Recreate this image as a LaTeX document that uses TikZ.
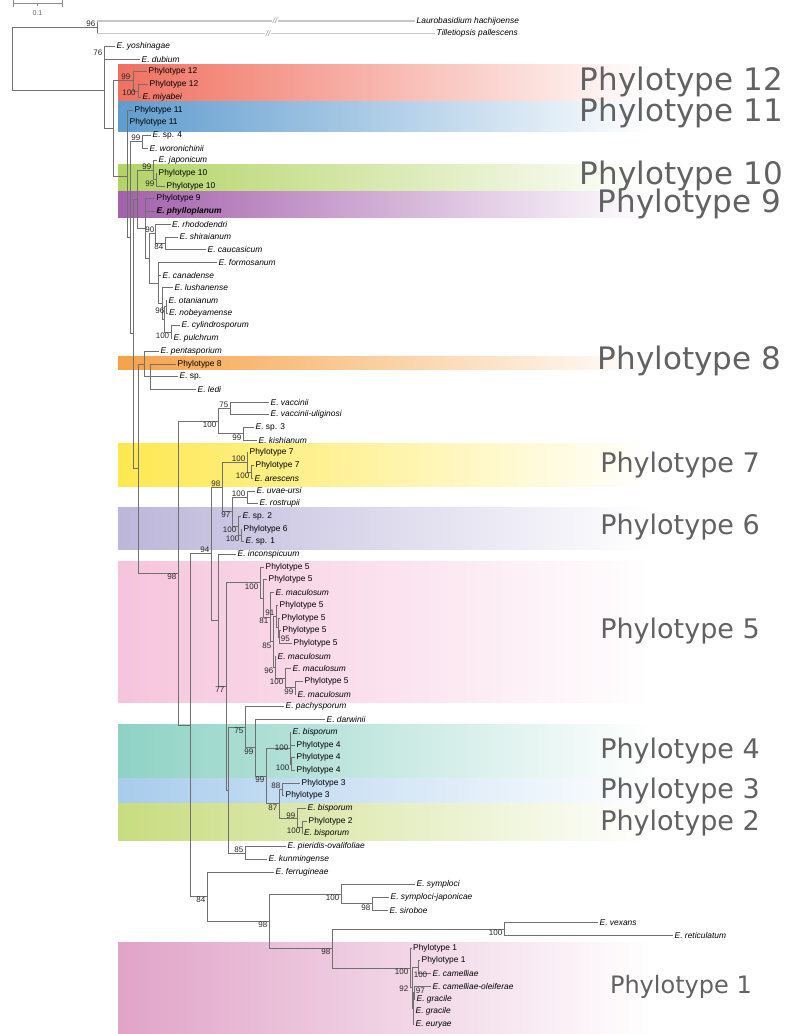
\documentclass[tikz,border=0pt]{standalone}
\usepackage{fontspec}
\setmainfont{Liberation Sans}
\newfontfamily\bigfont{DejaVu Sans}
\definecolor{band12}{RGB}{240,112,96}
\definecolor{band11}{RGB}{96,156,206}
\definecolor{band10}{RGB}{178,212,100}
\definecolor{band9}{RGB}{164,96,172}
\definecolor{band8}{RGB}{246,162,72}
\definecolor{band7}{RGB}{254,232,80}
\definecolor{band6}{RGB}{188,182,218}
\definecolor{band5}{RGB}{246,196,220}
\definecolor{band4}{RGB}{142,210,196}
\definecolor{band3}{RGB}{168,204,236}
\definecolor{band2}{RGB}{200,220,128}
\definecolor{band1}{RGB}{224,164,200}
\definecolor{branchcolor}{RGB}{112,112,112}
\definecolor{cladecolor}{RGB}{98,98,98}
\begin{document}
\begin{tikzpicture}[
    x=1pt, y=-1pt,
    % Estilos da arvore
    branch/.style={draw=branchcolor, line width=0.7pt},
    longbranch/.style={draw=black!22, line width=1.2pt},
    leaf/.style={anchor=west, inner sep=1.5pt, font=\fontsize{8.4}{10}\selectfont\itshape},
    otuleaf/.style={leaf, font=\fontsize{8.4}{10}\selectfont},
    boot/.style={inner sep=0.6pt, text=black!85, font=\fontsize{8}{9}\selectfont},
    band/.style={right color=white},
    % Rotulos dos filotipos
    cladebig/.style={anchor=east, inner sep=0pt, text=cladecolor, font=\bigfont\fontsize{31}{36}\selectfont},
    clademid/.style={cladebig, font=\bigfont\fontsize{27}{32}\selectfont},
    cladesmall/.style={cladebig, font=\bigfont\fontsize{24}{28}\selectfont},
    breakmark/.style={fill=white, inner sep=0.3pt, text=black!45, font=\fontsize{8}{9}\selectfont\itshape},
    scalebar/.style={draw=black!45, line width=0.6pt},
    scaletext/.style={text=black!60, font=\fontsize{7}{8}\selectfont},
]
\useasboundingbox (0,0) rectangle (790,1034);

% ============================================================================
% Faixas coloridas dos filotipos
% ============================================================================
\fill[band, left color=band12] (118,64) rectangle (650,101.5);
\fill[band, left color=band11] (118,101.5) rectangle (650,131);
\fill[band, left color=band10] (118,164) rectangle (650,191.5);
\fill[band, left color=band9] (118,191.5) rectangle (650,217.5);
\fill[band, left color=band8] (118,356) rectangle (650,369);
\fill[band, left color=band7] (118,443) rectangle (650,486);
\fill[band, left color=band6] (118,507) rectangle (650,549);
\fill[band, left color=band5] (118,561) rectangle (650,702);
\fill[band, left color=band4] (118,724) rectangle (650,778);
\fill[band, left color=band3] (118,778) rectangle (650,803);
\fill[band, left color=band2] (118,803) rectangle (650,840);
\fill[band, left color=band1] (118,942) rectangle (650,1034);

\node[cladebig] (lab12) at (783,82) {Phylotype 12};
\node[cladebig] (lab11) at (783,113) {Phylotype 11};
\node[cladebig] (lab10) at (783,176) {Phylotype 10};
\node[cladebig] (lab9) at (781,204) {Phylotype 9};
\node[cladebig] (lab8) at (781,361) {Phylotype 8};
\node[clademid] (lab7) at (760,465) {Phylotype 7};
\node[clademid] (lab6) at (760,527) {Phylotype 6};
\node[clademid] (lab5) at (760,631) {Phylotype 5};
\node[clademid] (lab4) at (760,751) {Phylotype 4};
\node[clademid] (lab3) at (760,791) {Phylotype 3};
\node[clademid] (lab2) at (760,823) {Phylotype 2};
\node[cladesmall] (lab1) at (752,987) {Phylotype 1};

% ============================================================================
% Escala
% ============================================================================
\coordinate (sbl) at (13,3.3);
\coordinate (sbr) at (62,3.3);
\coordinate (sbm) at (37.5,3.3);
\draw[scalebar] (sbl) -- (sbr);
\draw[scalebar] (sbl) ++(0,-3) -- ++(0,6.5);
\draw[scalebar] (sbr) ++(0,-3) -- ++(0,6.5);
\draw[scalebar] (sbm) -- ++(0,3);
\node[scaletext] (sbtext) at (37.5,13) {0.1};

% ============================================================================
% Folhas
% ============================================================================
\node[leaf] (l01) at (415,21.0) {Laurobasidium hachijoense};
\node[leaf] (l02) at (435,33.7) {Tilletiopsis pallescens};
\node[leaf] (l03) at (115,46.4) {E. yoshinagae};
\node[leaf] (l04) at (140,59.1) {E. dubium};
\node[otuleaf] (l05) at (147,71.8) {Phylotype 12};
\node[otuleaf] (l06) at (148,84.5) {Phylotype 12};
\node[leaf] (l07) at (141,97.2) {E. miyabei};
\node[otuleaf] (l08) at (133,109.9) {Phylotype 11};
\node[otuleaf] (l09) at (128,122.6) {Phylotype 11};
\node[otuleaf] (l10) at (151,135.3) {\textit{E.} sp. 4};
\node[leaf] (l11) at (148,148.0) {E. woronichinii};
\node[leaf] (l12) at (157,160.7) {E. japonicum};
\node[otuleaf] (l13) at (157,173.4) {Phylotype 10};
\node[otuleaf] (l14) at (165,186.1) {Phylotype 10};
\node[otuleaf] (l15) at (155,198.8) {Phylotype 9};
\node[leaf, font=\fontsize{8.4}{10}\selectfont\bfseries\itshape] (l16) at (155,211.5) {E. phylloplanum};
\node[leaf] (l17) at (170.5,224.2) {E. rhododendri};
\node[leaf] (l18) at (178,236.9) {E. shiraianum};
\node[leaf] (l19) at (206,249.6) {E. caucasicum};
\node[leaf] (l20) at (217,262.3) {E. formosanum};
\node[leaf] (l21) at (161,275.0) {E. canadense};
\node[leaf] (l22) at (173,287.7) {E. lushanense};
\node[leaf] (l23) at (167,300.4) {E. otanianum};
\node[leaf] (l24) at (167.5,313.1) {E. nobeyamense};
\node[leaf] (l25) at (180,325.8) {E. cylindrosporum};
\node[leaf] (l26) at (172,338.5) {E. pulchrum};
\node[leaf] (l27) at (159,351.2) {E. pentasporium};
\node[otuleaf] (l28) at (176,363.9) {Phylotype 8};
\node[otuleaf] (l29) at (178,376.6) {\textit{E.} sp.};
\node[leaf] (l30) at (196,389.3) {E. ledi};
\node[leaf] (l31) at (269,402.0) {E. vaccinii};
\node[leaf] (l32) at (269,414.7) {E. vaccinii-uliginosi};
\node[otuleaf] (l33) at (254,427.4) {\textit{E.} sp. 3};
\node[leaf] (l34) at (257,440.1) {E. kishianum};
\node[otuleaf] (l35) at (248,452.8) {Phylotype 7};
\node[otuleaf] (l36) at (254,465.5) {Phylotype 7};
\node[leaf] (l37) at (253,478.2) {E. arescens};
\node[leaf] (l38) at (255,490.9) {E. uvae-ursi};
\node[leaf] (l39) at (258,503.6) {E. rostrupii};
\node[otuleaf] (l40) at (241,516.3) {\textit{E.} sp. 2};
\node[otuleaf] (l41) at (242,529.0) {Phylotype 6};
\node[otuleaf] (l42) at (244,541.7) {\textit{E.} sp. 1};
\node[leaf] (l43) at (236,554.4) {E. inconspicuum};
\node[otuleaf] (l44) at (264,567.1) {Phylotype 5};
\node[otuleaf] (l45) at (267,579.8) {Phylotype 5};
\node[leaf] (l46) at (274,592.5) {E. maculosum};
\node[otuleaf] (l47) at (278,605.2) {Phylotype 5};
\node[otuleaf] (l48) at (280,617.9) {Phylotype 5};
\node[otuleaf] (l49) at (281,630.6) {Phylotype 5};
\node[otuleaf] (l50) at (292,643.3) {Phylotype 5};
\node[leaf] (l51) at (276,656.0) {E. maculosum};
\node[leaf] (l52) at (291,668.7) {E. maculosum};
\node[otuleaf] (l53) at (303,681.4) {Phylotype 5};
\node[leaf] (l54) at (296,694.1) {E. maculosum};
\node[leaf] (l55) at (284,706.8) {E. pachysporum};
\node[leaf] (l56) at (325,719.5) {E. darwinii};
\node[leaf] (l57) at (291,732.2) {E. bisporum};
\node[otuleaf] (l58) at (295,744.9) {Phylotype 4};
\node[otuleaf] (l59) at (295,757.6) {Phylotype 4};
\node[otuleaf] (l60) at (295,770.3) {Phylotype 4};
\node[otuleaf] (l61) at (300,783.0) {Phylotype 3};
\node[otuleaf] (l62) at (284,795.7) {Phylotype 3};
\node[leaf] (l63) at (306,808.4) {E. bisporum};
\node[otuleaf] (l64) at (307,821.1) {Phylotype 2};
\node[leaf] (l65) at (302.5,833.8) {E. bisporum};
\node[leaf] (l66) at (286,846.5) {E. pieridis-ovalifoliae};
\node[leaf] (l67) at (267,859.2) {E. kunmingense};
\node[leaf] (l68) at (274,871.9) {E. ferrugineae};
\node[leaf] (l69) at (415,884.6) {E. symploci};
\node[leaf] (l70) at (389,897.3) {E. symploci-japonicae};
\node[leaf] (l71) at (388,910.0) {E. siroboe};
\node[leaf] (l72) at (598,922.7) {E. vexans};
\node[leaf] (l73) at (673,935.4) {E. reticulatum};
\node[otuleaf] (l74) at (411.5,948.1) {Phylotype 1};
\node[otuleaf] (l75) at (420,960.8) {Phylotype 1};
\node[leaf] (l76) at (431,973.5) {E. camelliae};
\node[leaf] (l77) at (431,986.2) {E. camelliae-oleiferae};
\node[leaf] (l78) at (415,998.9) {E. gracile};
\node[leaf] (l79) at (414,1011.6) {E. gracile};
\node[leaf] (l80) at (414,1024.3) {E. euryae};

% ============================================================================
% Nos internos
% ============================================================================
\coordinate (root) at (12,58.9);
\coordinate (outg) at (97,27.35);
\coordinate (nA) at (104,90.4);
\coordinate (nY) at (104,52.75);
\coordinate (nB) at (113,128.3);
\coordinate (p12) at (133,80);
\coordinate (p12b) at (138,90.85);
\coordinate (nC) at (127,176.6);
\coordinate (p11) at (127,116.25);
\coordinate (nX) at (130,237.6);
\coordinate (sp4) at (142,141.65);
\coordinate (n133) at (133,333.6);
\coordinate (n137) at (137,199.6);
\coordinate (jap) at (153,170.6);
\coordinate (p10) at (156,179.75);
\coordinate (n145) at (145,228.55);
\coordinate (n149) at (149,258.3);
\coordinate (rho) at (155,233.7);
\coordinate (cau) at (165,243.25);
\coordinate (form) at (158,283);
\coordinate (lush) at (162,303.6);
\coordinate (nobc) at (164,319.5);
\coordinate (nob) at (166,306.75);
\coordinate (pul) at (171,332.15);
\coordinate (n138) at (138,468.5);
\coordinate (pent) at (144,363.9);
\coordinate (ledi) at (150,376.6);
\coordinate (n98a) at (178,573);
\coordinate (vac) at (218,421);
\coordinate (vacu) at (230,408.35);
\coordinate (kis) at (243,433.75);
\coordinate (n190) at (190,725);
\coordinate (n94) at (211,553.6);
\coordinate (n98p) at (222,486.9);
\coordinate (p7) at (247,462.3);
\coordinate (p7b) at (251,471.85);
\coordinate (n97s) at (232,511.5);
\coordinate (uva) at (247,497.25);
\coordinate (p6a) at (238,525.85);
\coordinate (p6b) at (241,535.35);
\coordinate (inc) at (218,620.4);
\coordinate (n77) at (226,686.4);
\coordinate (p5) at (260,582.8);
\coordinate (p5x) at (263,598.45);
\coordinate (n81) at (270,617.1);
\coordinate (n85m) at (273,641.7);
\coordinate (n91) at (276,616.3);
\coordinate (n48) at (278,627.4);
\coordinate (n95) at (279,637);
\coordinate (n96m) at (275,667.05);
\coordinate (n100m) at (285,678.25);
\coordinate (n99m) at (295,687.75);
\coordinate (nbis) at (228,790.1);
\coordinate (pach) at (245,727.25);
\coordinate (darw) at (255,747.7);
\coordinate (n99y) at (266,775.9);
\coordinate (p4) at (290,748.1);
\coordinate (p4b) at (291,763.95);
\coordinate (n87) at (279,803.7);
\coordinate (p3) at (282,789.35);
\coordinate (p2a) at (297,817.95);
\coordinate (p2b) at (302,827.45);
\coordinate (pier) at (245,852.85);
\coordinate (ferr) at (207,896.5);
\coordinate (n98b) at (269,921.2);
\coordinate (sym) at (341,894.0);
\coordinate (sir) at (372,903.65);
\coordinate (n98vx) at (332,948.6);
\coordinate (vex) at (504,929.05);
\coordinate (p1) at (410,968);
\coordinate (p1r) at (412,987.8);
\coordinate (cam) at (418,967.15);
\coordinate (n92) at (413,1008.4);
\coordinate (n97c) at (414,992.55);

% ============================================================================
% Ramos
% ============================================================================
% Raiz e grupo externo
\draw[branch] (root) |- (outg) (root) |- (nA);
\draw[branch] (outg |- l01.west) -- (outg |- l02.west);
\draw[longbranch] (outg |- l01.west) -- (l01.west);
\draw[longbranch] (outg |- l02.west) -- (l02.west);
\node[breakmark] (brk1) at (275,21) {//};
\node[breakmark] (brk2) at (268,33.7) {//};

% Filotipos 12 a 8
\draw[branch] (nA) |- (nY) (nA) |- (nB);
\draw[branch] (nY) |- (l03.west) (nY) |- (l04.west);
\draw[branch] (nB) |- (p12) (nB) |- (nC);
\draw[branch] (p12) |- (l05.west) (p12) |- (p12b);
\draw[branch] (p12b) |- (l06.west) (p12b) |- (l07.west);
\draw[branch] (nC) |- (p11) (nC) |- (nX);
\draw[branch] (p11) |- (l08.west) (p11) |- (l09.west);
\draw[branch] (nX) |- (sp4) (nX) |- (n133);
\draw[branch] (sp4) |- (l10.west) (sp4) |- (l11.west);
\draw[branch] (n133) |- (n137) (n133) |- (n138);
\draw[branch] (n137) |- (jap) (n137) |- (n145);
\draw[branch] (jap) |- (l12.west) (jap) |- (p10);
\draw[branch] (p10) |- (l13.west) (p10) |- (l14.west);
\draw[branch] (n145) |- (l15.west) (n145) |- (l16.west) (n145) |- (n149);
\draw[branch] (n149) |- (rho) (n149) |- (form);
\draw[branch] (rho) |- (l17.west) (rho) |- (cau);
\draw[branch] (cau) |- (l18.west) (cau) |- (l19.west);
\draw[branch] (form) |- (l20.west) (form) |- (l21.west) (form) |- (lush);
\draw[branch] (lush) |- (l22.west) (lush) |- (nobc);
\draw[branch] (nobc) |- (nob) (nobc) |- (pul);
\draw[branch] (nob) |- (l23.west) (nob) |- (l24.west);
\draw[branch] (pul) |- (l25.west) (pul) |- (l26.west);
\draw[branch] (n138) |- (pent) (n138) |- (n98a);
\draw[branch] (pent) |- (l27.west) (pent) |- (ledi);
\draw[branch] (ledi) |- (l28.west) (ledi) |- (l29.west) (ledi) |- (l30.west);

% Filotipos 7 a 2
\draw[branch] (n98a) |- (vac) (n98a) |- (n190);
\draw[branch] (vac) |- (vacu) (vac) |- (kis);
\draw[branch] (vacu) |- (l31.west) (vacu) |- (l32.west);
\draw[branch] (kis) |- (l33.west) (kis) |- (l34.west);
\draw[branch] (n190) |- (n94) (n190) |- (ferr);
\draw[branch] (n94) |- (n98p) (n94) |- (inc);
\draw[branch] (n98p) |- (p7) (n98p) |- (n97s);
\draw[branch] (p7) |- (l35.west) (p7) |- (p7b);
\draw[branch] (p7b) |- (l36.west) (p7b) |- (l37.west);
\draw[branch] (n97s) |- (uva) (n97s) |- (p6a);
\draw[branch] (uva) |- (l38.west) (uva) |- (l39.west);
\draw[branch] (p6a) |- (l40.west) (p6a) |- (p6b);
\draw[branch] (p6b) |- (l41.west) (p6b) |- (l42.west);
\draw[branch] (inc) |- (l43.west) (inc) |- (n77);
\draw[branch] (n77) |- (p5) (n77) |- (nbis);
\draw[branch] (p5) |- (l44.west) (p5) |- (p5x);
\draw[branch] (p5x) |- (l45.west) (p5x) |- (n81);
\draw[branch] (n81) |- (l46.west) (n81) |- (n85m);
\draw[branch] (n85m) |- (n91) (n85m) |- (n96m);
\draw[branch] (n91) |- (l47.west) (n91) |- (n48);
\draw[branch] (n48) |- (l48.west) (n48) |- (n95);
\draw[branch] (n95) |- (l49.west) (n95) |- (l50.west);
\draw[branch] (n96m) |- (l51.west) (n96m) |- (n100m);
\draw[branch] (n100m) |- (l52.west) (n100m) |- (n99m);
\draw[branch] (n99m) |- (l53.west) (n99m) |- (l54.west);
\draw[branch] (nbis) |- (pach) (nbis) |- (pier);
\draw[branch] (pach) |- (l55.west) (pach) |- (darw);
\draw[branch] (darw) |- (l56.west) (darw) |- (n99y);
\draw[branch] (n99y) |- (p4) (n99y) |- (n87);
\draw[branch] (p4) |- (l57.west) (p4) |- (l58.west) (p4) |- (p4b);
\draw[branch] (p4b) |- (l59.west) (p4b) |- (l60.west);
\draw[branch] (n87) |- (p3) (n87) |- (p2a);
\draw[branch] (p3) |- (l61.west) (p3) |- (l62.west);
\draw[branch] (p2a) |- (l63.west) (p2a) |- (p2b);
\draw[branch] (p2b) |- (l64.west) (p2b) |- (l65.west);
\draw[branch] (pier) |- (l66.west) (pier) |- (l67.west);

% Filotipo 1 e parentes
\draw[branch] (ferr) |- (l68.west) (ferr) |- (n98b);
\draw[branch] (n98b) |- (sym) (n98b) |- (n98vx);
\draw[branch] (sym) |- (l69.west) (sym) |- (sir);
\draw[branch] (sir) |- (l70.west) (sir) |- (l71.west);
\draw[branch] (n98vx) |- (vex) (n98vx) |- (p1);
\draw[branch] (vex) |- (l72.west) (vex) |- (l73.west);
\draw[branch] (p1) |- (l74.west) (p1) |- (p1r);
\draw[branch] (p1r) |- (cam) (p1r) |- (n92);
\draw[branch] (cam) |- (l75.west) (cam) |- (l76.west);
\draw[branch] (n92) |- (n97c) (n92) |- (l79.west) (n92) |- (l80.west);
\draw[branch] (n97c) |- (l77.west) (n97c) |- (l78.west);

% ============================================================================
% Valores de bootstrap
% ============================================================================
\node[boot, anchor=south east] (b01) at (96,27.4) {96};
\node[boot, anchor=east] (b02) at (103,52.8) {76};
\node[boot, anchor=south east] (b03) at (131,80) {99};
\node[boot, anchor=east] (b04) at (136.5,93) {100};
\node[boot, anchor=south east] (b05) at (141,141.6) {99};
\node[boot, anchor=south east] (b06) at (152,170.6) {99};
\node[boot, anchor=north east] (b07) at (155,179.8) {99};
\node[boot, anchor=south east] (b08) at (155,233.7) {90};
\node[boot, anchor=north east] (b09) at (164,243.3) {84};
\node[boot, anchor=north east] (b10) at (165,306.8) {96};
\node[boot, anchor=north east] (b11) at (170,332.2) {100};
\node[boot, anchor=north east] (b12) at (177,573) {98};
\node[boot, anchor=north east] (b13) at (217,421) {100};
\node[boot, anchor=south east] (b14) at (229,408.4) {75};
\node[boot, anchor=north east] (b15) at (242,433.8) {99};
\node[boot, anchor=south east] (b16) at (210,553.6) {94};
\node[boot, anchor=south east] (b17) at (221,486.9) {98};
\node[boot, anchor=south east] (b18) at (246,462.3) {100};
\node[boot, anchor=north east] (b19) at (250,471.9) {100};
\node[boot, anchor=north east] (b20) at (231,511.5) {97};
\node[boot, anchor=south east] (b21) at (246,497.3) {100};
\node[boot, anchor=north east] (b22) at (237,525.9) {100};
\node[boot, anchor=north east] (b23) at (240,535.4) {100};
\node[boot, anchor=north east] (b24) at (225,686.4) {77};
\node[boot, anchor=north east] (b25) at (259,582.8) {100};
\node[boot, anchor=north east] (b26) at (269,617.1) {81};
\node[boot, anchor=north east] (b27) at (272,641.7) {85};
\node[boot, anchor=south east] (b28) at (275,616.3) {91};
\node[boot, anchor=west] (b29) at (280,639) {95};
\node[boot, anchor=north east] (b30) at (274,667.1) {96};
\node[boot, anchor=north east] (b31) at (284,678.3) {100};
\node[boot, anchor=north east] (b32) at (294,687.8) {99};
\node[boot, anchor=north east] (b33) at (244,727.3) {75};
\node[boot, anchor=north east] (b34) at (254,747.7) {99};
\node[boot, anchor=north east] (b35) at (265,775.9) {99};
\node[boot, anchor=east] (b36) at (289,748.1) {100};
\node[boot, anchor=north east] (b37) at (290,764) {100};
\node[boot, anchor=north east] (b38) at (278,803.7) {87};
\node[boot, anchor=south east] (b39) at (281,789.4) {88};
\node[boot, anchor=east] (b40) at (296,816) {99};
\node[boot, anchor=north east] (b41) at (301,827.5) {100};
\node[boot, anchor=south east] (b42) at (244,852.9) {85};
\node[boot, anchor=north east] (b43) at (206,896.5) {84};
\node[boot, anchor=north east] (b44) at (268,921.2) {98};
\node[boot, anchor=north east] (b45) at (340,894) {100};
\node[boot, anchor=north east] (b46) at (371,903.7) {98};
\node[boot, anchor=north east] (b47) at (331,948.6) {98};
\node[boot, anchor=north east] (b48) at (503,929.1) {100};
\node[boot, anchor=north east] (b49) at (409,968) {100};
\node[boot, anchor=north west] (b50) at (413,971) {100};
\node[boot, anchor=east] (b51) at (409,989) {92};
\node[boot, anchor=west] (b52) at (415,991) {97};

\end{tikzpicture}
\end{document}
